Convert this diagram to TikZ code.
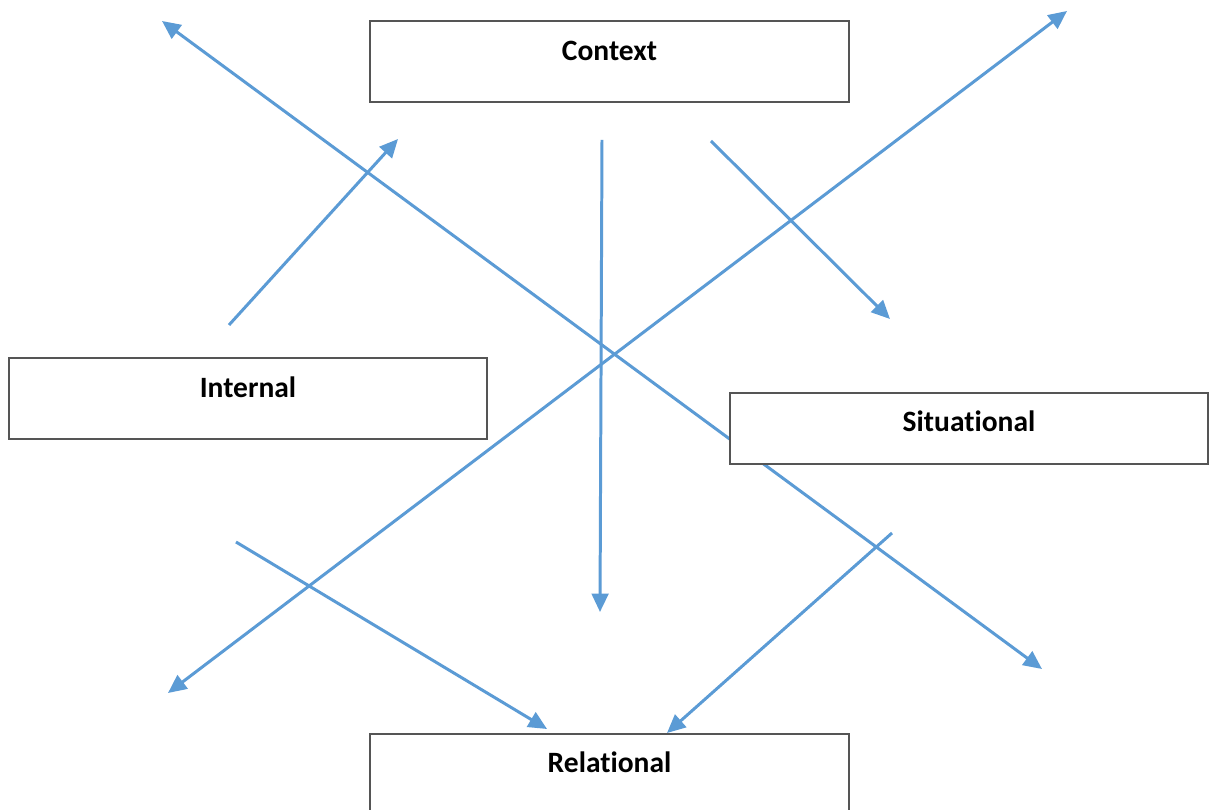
\documentclass[tikz,border=0pt]{standalone}
\usepackage{fontspec}
\setmainfont{Carlito}[Ligatures=NoCommon]
\usetikzlibrary{arrows.meta}
\definecolor{flow}{HTML}{5B9BD5}
\definecolor{frame}{HTML}{555555}
\begin{document}
\begin{tikzpicture}[x=0.02cm,y=-0.02cm,
  tip/.style={arrows={-Triangle[length=10.5pt,width=9.5pt]}},
  flowarrow/.style={draw=flow,line width=1.7pt,-{Triangle[length=10.5pt,width=9.5pt]}},
  twoway/.style={draw=flow,line width=1.7pt,{Triangle[length=10.5pt,width=9.5pt]}-{Triangle[length=10.5pt,width=9.5pt]}},
  box/.style={draw=frame,fill=white,line width=1.1pt,rectangle,inner sep=0pt,
    minimum width=9.58cm,
    font=\fontsize{16.8}{18}\selectfont\bfseries,anchor=north}]
\clip (0,0) rectangle (1215,810);
\fill[white] (0,0) rectangle (1215,810);

% arrow end points
\coordinate (a1s) at (229,325);  \coordinate (a1e) at (398,139);
\coordinate (d1a) at (162,21);   \coordinate (d1b) at (1042,669);
\coordinate (d2a) at (168,693);  \coordinate (d2b) at (1067,11);
\coordinate (vs)  at (602,140);  \coordinate (ve)  at (600,612);
\coordinate (rs)  at (711,141);  \coordinate (re)  at (890,319);
\coordinate (ls)  at (236,542);  \coordinate (le)  at (547,729);
\coordinate (ms)  at (892,533);  \coordinate (me)  at (667,733);

% arrows
\draw[flowarrow] (a1s) -- (a1e);
\draw[twoway] (d1b) -- (d1a);
\draw[twoway] (d2a) -- (d2b);
\draw[flowarrow] (vs) -- (ve);
\draw[flowarrow] (rs) -- (re);
\draw[flowarrow] (ls) -- (le);
\draw[flowarrow] (ms) -- (me);

% boxes
\node[box,text height=0.8cm,text depth=0.82cm] (context) at (609.5,20) {Context};
\node[box,text height=0.8cm,text depth=0.82cm] (internal) at (248,357) {Internal};
\node[box,text height=0.78cm,text depth=0.64cm] (situational) at (969,392) {Situational};
\node[box,text height=0.78cm,text depth=1.2cm] (relational) at (609.5,733) {Relational};
\end{tikzpicture}
\end{document}
